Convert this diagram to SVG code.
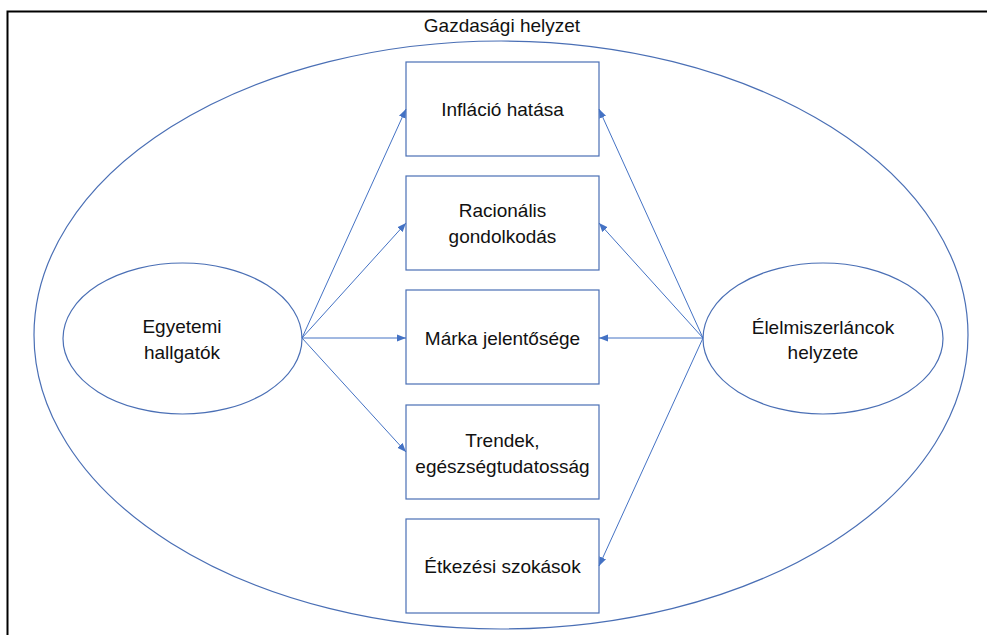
<svg xmlns="http://www.w3.org/2000/svg" width="987" height="635" viewBox="0 0 987 635">
<style>
.t{font-family:"Liberation Sans",Arial,sans-serif;font-size:19px;fill:#111111;text-anchor:middle}
.shape{fill:#ffffff;stroke:#4a6fb5;stroke-width:1.2}
.box{fill:#ffffff;stroke:#4a6fb5;stroke-width:1.2}
.conn{stroke:#4472c4;stroke-width:1;fill:none;marker-end:url(#arr)}
</style>
<defs>
<marker id="arr" viewBox="0 0 10 10" refX="10" refY="5" markerWidth="9" markerHeight="9" markerUnits="userSpaceOnUse" orient="auto">
<path d="M0,1 L10,5 L0,9 z" fill="#4472c4"/>
</marker>
</defs>
<rect x="0" y="0" width="987" height="635" fill="#ffffff"/>
<rect x="7.5" y="11.5" width="1000" height="650" fill="none" stroke="#000000" stroke-width="2"/>
<g id="outer">
<ellipse cx="501" cy="335" rx="467" ry="294" fill="none" stroke="#4a6fb5" stroke-width="1.2"/>
<text class="t" x="502" y="32">Gazdasági helyzet</text>
</g>
<g id="n-egyetemi">
<ellipse class="shape" cx="182.5" cy="338.5" rx="119.5" ry="75.5"/>
<text class="t" x="182" y="333">Egyetemi</text>
<text class="t" x="182" y="359">hallgatók</text>
</g>
<g id="n-elelmiszer">
<ellipse class="shape" cx="823" cy="338.5" rx="120" ry="75.5"/>
<text class="t" x="823" y="334">Élelmiszerláncok</text>
<text class="t" x="823" y="359">helyzete</text>
</g>
<g id="n-inflacio">
<rect class="box" x="406" y="62" width="193" height="94"/>
<text class="t" x="502.5" y="116">Infláció hatása</text>
</g>
<g id="n-racionalis">
<rect class="box" x="406" y="176" width="193" height="94"/>
<text class="t" x="502.5" y="217">Racionális</text>
<text class="t" x="502.5" y="243">gondolkodás</text>
</g>
<g id="n-marka">
<rect class="box" x="406" y="290" width="193" height="94"/>
<text class="t" x="502.5" y="345">Márka jelentősége</text>
</g>
<g id="n-trendek">
<rect class="box" x="406" y="405" width="193" height="94"/>
<text class="t" x="502.5" y="447">Trendek,</text>
<text class="t" x="502.5" y="473">egészségtudatosság</text>
</g>
<g id="n-etkezesi">
<rect class="box" x="406" y="519" width="193" height="94"/>
<text class="t" x="502.5" y="573">Étkezési szokások</text>
</g>
<g id="connectors">
<line class="conn" x1="302" y1="338" x2="406" y2="109"/>
<line class="conn" x1="302" y1="338" x2="406" y2="223"/>
<line class="conn" x1="302" y1="338" x2="406" y2="338"/>
<line class="conn" x1="302" y1="338" x2="406" y2="452"/>
<line class="conn" x1="703" y1="338" x2="599" y2="109"/>
<line class="conn" x1="703" y1="338" x2="599" y2="223"/>
<line class="conn" x1="703" y1="338" x2="599" y2="338"/>
<line class="conn" x1="703" y1="338" x2="599" y2="566"/>
</g>
</svg>
